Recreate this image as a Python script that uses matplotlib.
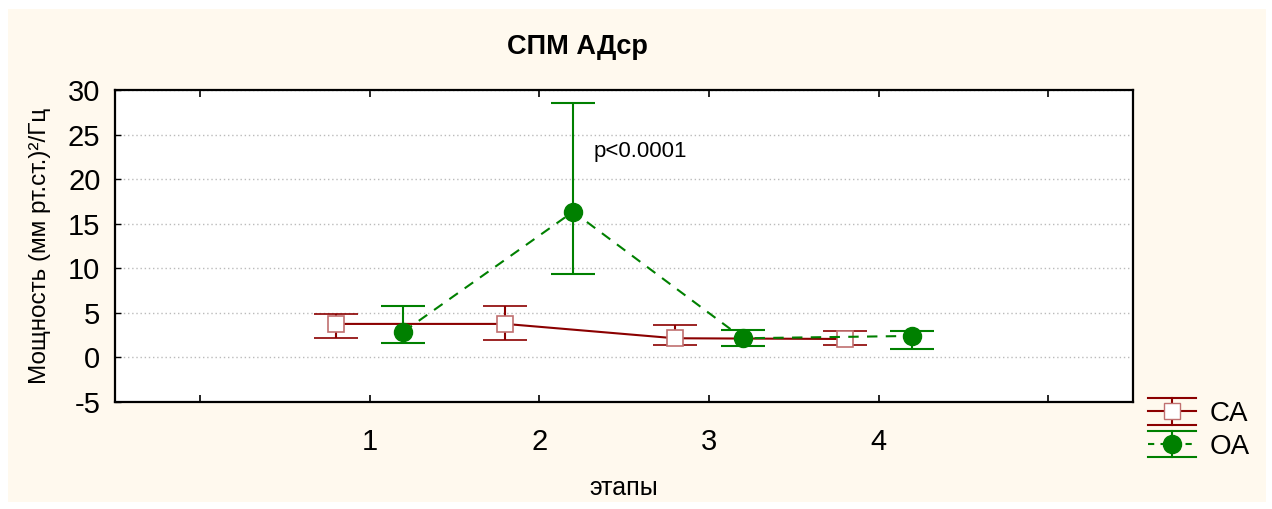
import numpy as np
import matplotlib
matplotlib.use("Agg")
import matplotlib.pyplot as plt
from matplotlib.lines import Line2D
from matplotlib.patches import Rectangle
from matplotlib.legend_handler import HandlerBase

plt.rcParams["font.family"] = ["Liberation Sans", "DejaVu Sans"]
plt.rcParams["axes.unicode_minus"] = False

# данные (этапы 1-4)
stages = [1, 2, 3, 4]
ca_mean = [3.76, 3.76, 2.15, 2.07]
ca_low = [2.19, 1.96, 1.37, 1.37]
ca_high = [4.88, 5.81, 3.68, 2.94]
oa_mean = [2.89, 16.35, 2.15, 2.41]
oa_low = [1.59, 9.36, 1.32, 0.95]
oa_high = [5.81, 28.57, 3.08, 3.00]

ca_color = "#8B0000"
oa_color = "#008000"
bg = "#FFF9EE"


class ErrHandler(HandlerBase):
    def __init__(self, color, ls, marker, mfc, mec, ms):
        super().__init__()
        self.color, self.ls, self.marker = color, ls, marker
        self.mfc, self.mec, self.ms = mfc, mec, ms

    def create_artists(self, legend, orig_handle, xd, yd, width, height, fontsize, trans):
        x0, x1 = -xd, -xd + width
        xm = x0 + width / 2
        y0, y1 = -yd, -yd + height
        ym = (y0 + y1) / 2
        arts = [
            Line2D([x0, x1], [y1, y1], color=self.color, lw=1.5),
            Line2D([x0, x1], [y0, y0], color=self.color, lw=1.5),
            Line2D([xm, xm], [y0, y1], color=self.color, lw=1.5),
            Line2D([x0, x1], [ym, ym], color=self.color, lw=1.5, ls=self.ls),
            Line2D([xm], [ym], marker=self.marker, color=self.color, ms=self.ms,
                   mfc=self.mfc, mec=self.mec, ls="none"),
        ]
        for a in arts:
            a.set_transform(trans)
        return arts


fig = plt.figure(figsize=(12.72, 5.09), dpi=100, facecolor="white")
fig.patches.append(Rectangle((8 / 1272, 7 / 509), 1258 / 1272, 493 / 509,
                             transform=fig.transFigure, facecolor=bg,
                             edgecolor="none", zorder=-10))
ax = fig.add_axes([115 / 1272, 107 / 509, 1018 / 1272, 312 / 509])
ax.set_facecolor("white")

x = np.array(stages)
ca_err = [np.array(ca_mean) - np.array(ca_low), np.array(ca_high) - np.array(ca_mean)]
oa_err = [np.array(oa_mean) - np.array(oa_low), np.array(oa_high) - np.array(oa_mean)]

ax.errorbar(x - 0.2, ca_mean, yerr=ca_err, color=ca_color, lw=1.5, ls="-",
            marker="s", ms=11, mfc="white", mec="#C07070", mew=1.2,
            capsize=15.5, capthick=1.5, elinewidth=1.5, zorder=3)
ax.errorbar(x + 0.2, oa_mean, yerr=oa_err, color=oa_color, lw=1.5, ls=(0, (5, 4)),
            marker="o", ms=13, mfc=oa_color, mec=oa_color,
            capsize=15.5, capthick=1.5, elinewidth=1.5, zorder=4)

ax.text(2.32, 23.1, "p<0.0001", fontsize=16, va="center", ha="left")

ax.set_xlim(-0.5, 5.5)
ax.set_ylim(-5, 30)
ax.set_xticks([0, 1, 2, 3, 4, 5])
ax.set_xticklabels(["", "1", "2", "3", "4", ""])
ax.set_yticks(np.arange(-5, 31, 5))
ax.tick_params(axis="x", direction="in", top=True, length=5, width=1.2,
               labelsize=21, pad=19)
ax.tick_params(axis="y", direction="in", length=4, width=1, labelsize=21, pad=10.5)
ax.grid(axis="y", ls=(0, (1, 2)), color="#BBBBBB", lw=1)
for s in ax.spines.values():
    s.set_linewidth(1.6)

ax.set_xlabel("этапы", fontsize=18, labelpad=14)
ax.set_ylabel("Мощность (мм рт.ст.)²/Гц", fontsize=17.5, labelpad=12)
fig.text(577 / 1272, 1 - 47 / 509, "СПМ АДср", fontsize=19.5, fontweight="bold",
         ha="center", va="center")

h_ca = Line2D([], [])
h_oa = Line2D([], [])
fig.legend([h_ca, h_oa], ["CA", "OA"],
           handler_map={
               h_ca: ErrHandler(ca_color, "-", "s", "white", "#C07070", 11),
               h_oa: ErrHandler(oa_color, (0, (3, 3)), "o", oa_color, oa_color, 13)},
           loc="center left", bbox_to_anchor=(1142 / 1272, 1 - 429 / 509),
           frameon=False, fontsize=20, handlelength=1.73, handleheight=1.08,
           labelspacing=0.15, handletextpad=0.5, borderpad=0.2, borderaxespad=0)

fig.savefig("out.png", dpi=100, facecolor="white")
